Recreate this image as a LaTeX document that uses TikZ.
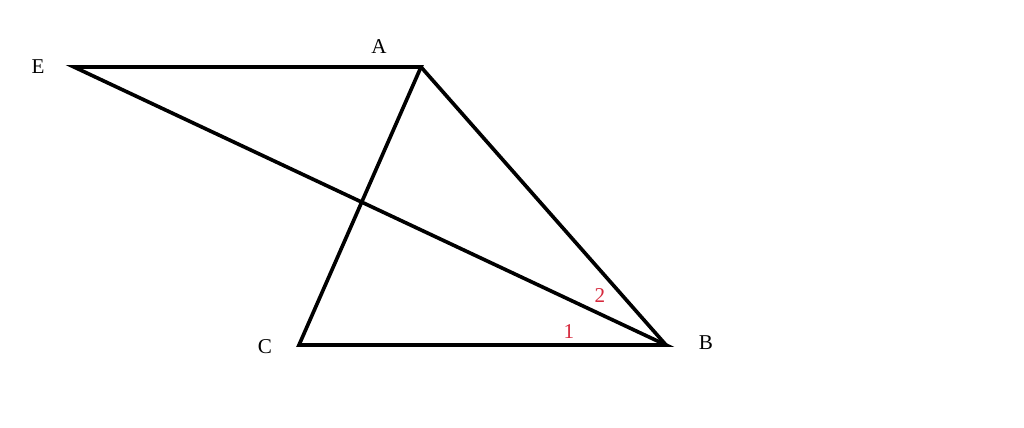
\documentclass[tikz,border=0pt]{standalone}
\usepackage{fontspec}
\setmainfont{Liberation Serif}
\definecolor{numred}{RGB}{214,40,60}
\begin{document}
\begin{tikzpicture}[x=0.025cm,y=-0.025cm,
  edge/.style={line width=2.6pt,line join=miter},
  lbl/.style={font=\fontsize{15}{18}\selectfont,inner sep=0pt},
  num/.style={font=\fontsize{15}{18}\selectfont,text=numred,inner sep=0pt}]
\useasboundingbox (0,0) rectangle (1024,427);
\fill[white] (0,0) rectangle (1024,427);
\coordinate (E) at (74,67);
\coordinate (A) at (421,67);
\coordinate (C) at (299,345);
\coordinate (B) at (666,345);
\draw[edge] (E) -- (A) -- (C) -- (B) -- (E) -- cycle;
\draw[edge] (A) -- (B);
\node[lbl] (lE) at (38,67) {E};
\node[lbl] (lA) at (379,47) {A};
\node[lbl] (lC) at (265,347) {C};
\node[lbl] (lB) at (706,343) {B};
\node[num] (n1) at (569,332) {1};
\node[num] (n2) at (600,296) {2};
\end{tikzpicture}
\end{document}
